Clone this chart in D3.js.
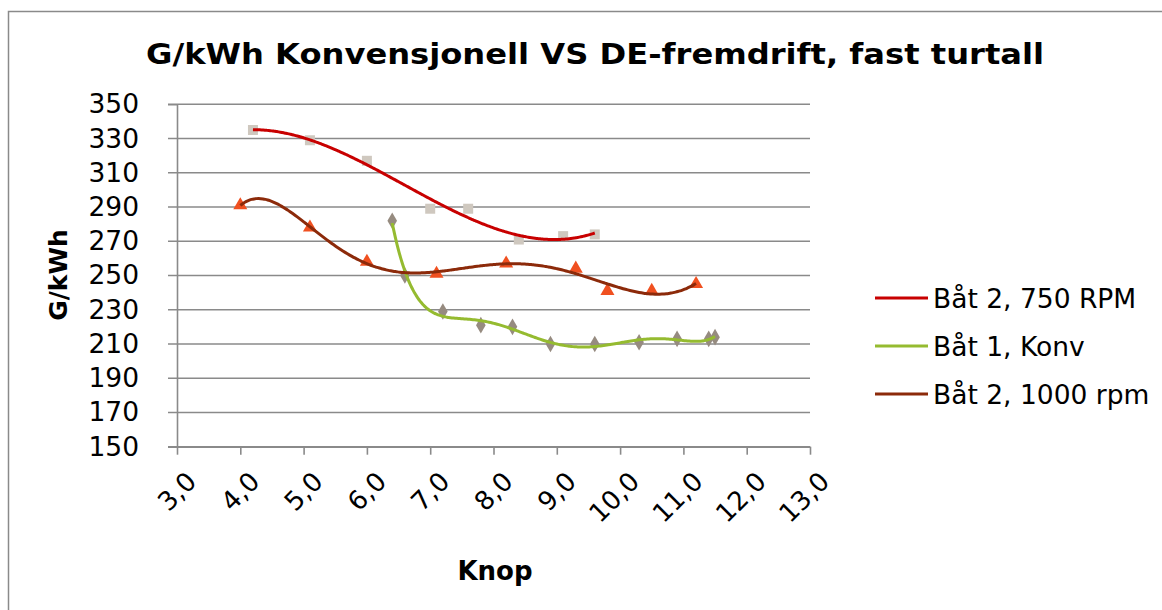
<!DOCTYPE html>
<html>
<head>
<meta charset="utf-8">
<script src="https://cdn.jsdelivr.net/npm/d3@7/dist/d3.min.js"></script>
<style>
  body { margin: 0; background: #fff; }
  svg { display: block; }
  text { font-family: "DejaVu Sans", Verdana, sans-serif; fill: #000; }
</style>
</head>
<body>
<div id="canvas"></div>
<script>
// data
const xTicks = [3, 4, 5, 6, 7, 8, 9, 10, 11, 12, 13];
const yTicks = [150, 170, 190, 210, 230, 250, 270, 290, 310, 330, 350];
const seriesNames = ["Båt 2, 750 RPM", "Båt 1, Konv", "Båt 2, 1000 rpm"];

const rpm750X = [4.2, 5.1, 6.0, 7.0, 7.6, 8.4, 9.1, 9.6];
const rpm750Y = [335, 329, 317, 289, 289, 271, 273, 274];

const konvX = [6.4, 6.6, 7.2, 7.8, 8.3, 8.9, 9.6, 10.3, 10.9, 11.4, 11.5];
const konvY = [282, 250, 229, 221, 220, 210, 210, 211, 213, 213, 214];

const rpm1000X = [4.0, 5.1, 6.0, 7.1, 8.2, 9.3, 9.8, 10.5, 11.2];
const rpm1000Y = [291, 278, 258, 251, 257, 254, 241, 241, 245];

const w = 1162;
const h = 610;
const margin = { top: 104.3, bottom: 610 - 446.7, left: 177, right: 1162 - 810 };

// least squares polynomial (trendline)
function polyFit(xs, ys, order) {
  const m = d3.mean(xs), s = d3.deviation(xs);
  const n = order + 1;
  const A = [];
  for (let i = 0; i < n; i++) {
    A.push(new Array(n + 1).fill(0));
  }
  xs.forEach((x, k) => {
    const u = (x - m) / s;
    for (let i = 0; i < n; i++) {
      for (let j = 0; j < n; j++) A[i][j] += Math.pow(u, i + j);
      A[i][n] += Math.pow(u, i) * ys[k];
    }
  });
  for (let c = 0; c < n; c++) {
    let p = c;
    for (let r = c + 1; r < n; r++) if (Math.abs(A[r][c]) > Math.abs(A[p][c])) p = r;
    [A[c], A[p]] = [A[p], A[c]];
    for (let r = 0; r < n; r++) {
      if (r === c) continue;
      const f = A[r][c] / A[c][c];
      for (let j = c; j <= n; j++) A[r][j] -= f * A[c][j];
    }
  }
  const coef = A.map((row, i) => row[n] / row[i]);
  return x => {
    const u = (x - m) / s;
    return coef.reduce((acc, cf, i) => acc + cf * Math.pow(u, i), 0);
  };
}

function render() {
  const width = w - (margin.left + margin.right);
  const height = h - (margin.top + margin.bottom);

  const svg = d3.select("#canvas")
    .append("svg")
    .attr("width", w)
    .attr("height", h);

  // outer frame
  svg.append("rect")
    .attr("x", 8.5).attr("y", 11.5)
    .attr("width", w + 20).attr("height", h + 20)
    .attr("fill", "none")
    .attr("stroke", "#8a8a8a")
    .attr("stroke-width", 1.5);

  svg.append("text")
    .attr("x", 595).attr("y", 64)
    .attr("text-anchor", "middle")
    .attr("font-weight", "bold")
    .attr("font-size", 28)
    .attr("textLength", 898)
    .attr("lengthAdjust", "spacingAndGlyphs")
    .attr("fill", "#222")
    .text("G/kWh Konvensjonell VS DE-fremdrift, fast turtall");

  const x = d3.scaleLinear().domain([3, 13]).range([margin.left, margin.left + width]);
  const y = d3.scaleLinear().domain([150, 350]).range([margin.top + height, margin.top]);

  // gridlines
  svg.append("g")
    .selectAll("line")
    .data(yTicks)
    .enter()
    .append("line")
    .attr("x1", margin.left - 9)
    .attr("x2", margin.left + width)
    .attr("y1", d => y(d))
    .attr("y2", d => y(d))
    .attr("stroke", "#8a8a8a")
    .attr("stroke-width", 1.6);

  const yAxis = svg.append("g")
    .attr("transform", `translate(${margin.left},0)`)
    .call(d3.axisLeft(y).tickValues(yTicks).tickSize(9).tickPadding(29));
  yAxis.select(".domain").attr("stroke", "#8a8a8a").attr("stroke-width", 1.6);
  yAxis.selectAll(".tick line").remove();
  yAxis.selectAll("text").attr("font-size", 26.5).attr("font-family", "DejaVu Sans").attr("fill", "#111");

  const xAxis = svg.append("g")
    .attr("transform", `translate(0,${margin.top + height})`)
    .call(d3.axisBottom(x).tickValues(xTicks).tickSize(8).tickSizeOuter(0)
      .tickFormat(d => d3.format(".1f")(d).replace(".", ",")));
  xAxis.select(".domain").attr("stroke", "#8a8a8a").attr("stroke-width", 1.6);
  xAxis.selectAll(".tick line").attr("stroke", "#8a8a8a").attr("stroke-width", 1.6);
  xAxis.selectAll("text")
    .attr("font-size", 26)
    .attr("font-family", "DejaVu Sans")
    .attr("fill", "#111")
    .attr("text-anchor", "end")
    .attr("dy", "0.35em")
    .attr("y", 0)
    .attr("transform", "translate(14,30) rotate(-45)");

  svg.append("text")
    .attr("x", 495).attr("y", 580)
    .attr("text-anchor", "middle")
    .attr("font-weight", "bold")
    .attr("font-size", 26)
    .attr("fill", "#111")
    .text("Knop");

  svg.append("text")
    .attr("transform", "translate(67,275) rotate(-90)")
    .attr("text-anchor", "middle")
    .attr("font-weight", "bold")
    .attr("font-size", 25)
    .attr("fill", "#111")
    .text("G/kWh");

  const series = [
    { name: seriesNames[0], xs: rpm750X, ys: rpm750Y, order: 3, line: "#c80000", marker: "#cfc8bf", shape: d3.symbolSquare, size: 100 },
    { name: seriesNames[1], xs: konvX, ys: konvY, order: 6, line: "#95bb30", marker: "#968b80", shape: d3.symbolDiamond, size: 80 },
    { name: seriesNames[2], xs: rpm1000X, ys: rpm1000Y, order: 6, line: "#8c2a0a", marker: "#f05020", shape: d3.symbolTriangle, size: 85 }
  ];

  const line = d3.line().x(d => x(d[0])).y(d => y(d[1])).curve(d3.curveMonotoneX);

  // markers first, trendlines on top
  series.forEach(s => {
    svg.append("g")
      .selectAll("path")
      .data(s.xs.map((v, i) => [v, s.ys[i]]))
      .enter()
      .append("path")
      .attr("d", d3.symbol().type(s.shape).size(s.size))
      .attr("transform", d => `translate(${x(d[0])},${y(d[1])})`)
      .attr("fill", s.marker);
  });

  series.forEach(s => {
    const f = polyFit(s.xs, s.ys, s.order);
    const lo = d3.min(s.xs), hi = d3.max(s.xs);
    const pts = d3.range(0, 201).map(i => {
      const xv = lo + (hi - lo) * i / 200;
      return [xv, f(xv)];
    });
    svg.append("path")
      .datum(pts)
      .attr("d", line)
      .attr("fill", "none")
      .attr("stroke", s.line)
      .attr("stroke-width", 3);
  });

  // legend
  const legend = svg.append("g")
    .selectAll("g")
    .data(series)
    .enter()
    .append("g")
    .attr("transform", (d, i) => `translate(875,${298 + i * 48})`);
  legend.append("line")
    .attr("x1", 0).attr("x2", 53)
    .attr("stroke", d => d.line)
    .attr("stroke-width", 3);
  legend.append("text")
    .attr("x", 58)
    .attr("dy", "0.36em")
    .attr("font-size", 26.5)
    .attr("fill", "#222")
    .text(d => d.name);
}

render();
</script>
</body>
</html>
